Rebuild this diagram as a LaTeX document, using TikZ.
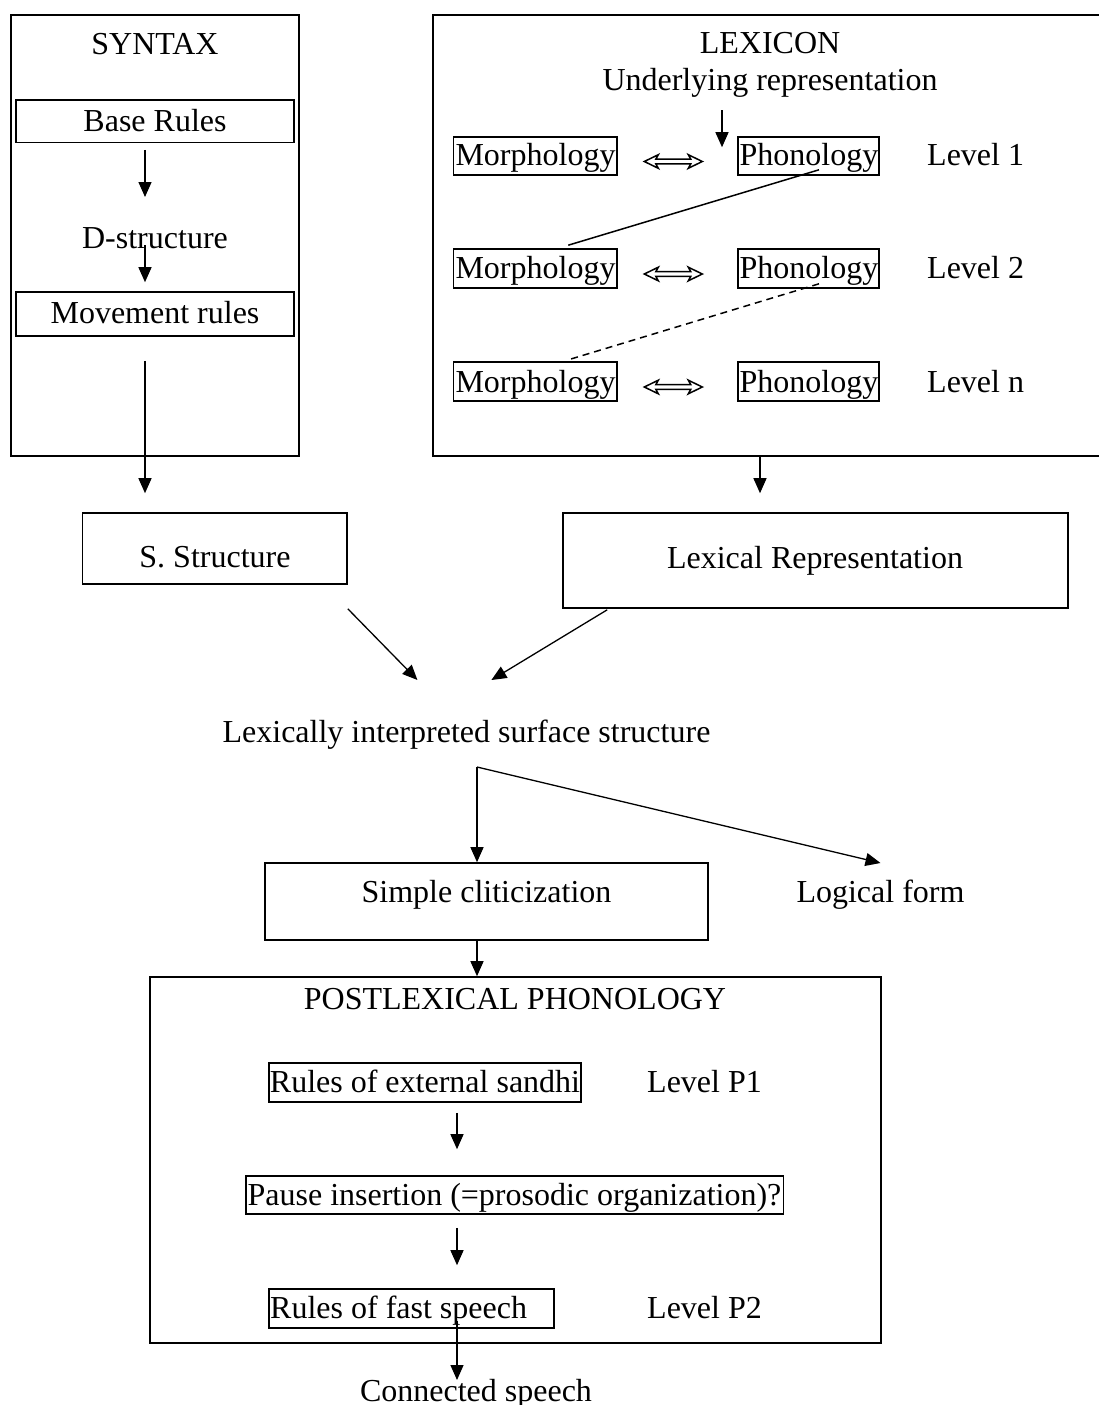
\documentclass[tikz,border=0pt]{standalone}
\usepackage{fontspec}
\setmainfont{Liberation Serif}
\usetikzlibrary{arrows.meta,calc,fit}
\begin{document}
\begin{tikzpicture}[x=1pt,y=-1pt,
  txt/.style={font=\fontsize{32}{38}\selectfont, inner sep=0pt, anchor=base},
  txtw/.style={txt, anchor=base west},
  frame/.style={draw, line width=1.6pt, inner sep=0pt, rectangle},
  arr/.style={line width=1.3pt, -{Triangle[length=15pt,width=13pt]}},
  link/.style={line width=1.5pt},
  dblarrow/.style={line width=1.5pt, line join=miter}]
\useasboundingbox (0,0) rectangle (1099,1405);
\clip (0,0) rectangle (1099,1405);

% column guides for the vertical connectors
\coordinate (xs) at (145,0);
\coordinate (xl) at (722,0);
\coordinate (xr) at (760,0);
\coordinate (xp) at (457,0);
\coordinate (split) at (477,767);

% ---------- SYNTAX ----------
\node[frame, fit={(11,15) (299,456)}] (syntaxbox) {};
\node[txt] (syntaxt) at (155,54.3) {SYNTAX};
\node[frame, fit={(16,100) (294,142.5)}] (baserules) {};
\node[txt] (baserulest) at (155,131) {Base Rules};
\node[txt] (dstruct) at (155,248) {D-structure};
\node[frame, fit={(16,292) (294,336)}] (moverules) {};
\node[txt] (moverulest) at (155,323) {Movement rules};

% ---------- LEXICON ----------
\node[frame, fit={(433,15) (1112,456)}] (lexbox) {};
\node[txt] (lexicont) at (770,53.5) {LEXICON};
\node[txt] (underlying) at (770,90) {Underlying representation};

\foreach \r/\yt/\yb/\yl/\lv in {1/137/175/165/1, 2/249/288/278/2, 3/362/401/392/n}{
  \node[frame, fit={(453.5,\yt) (617,\yb)}] (morph\r) {};
  \node[txt] (morph\r t) at (535.5,\yl) {Morphology};
  \node[frame, fit={(738,\yt) (879,\yb)}] (phon\r) {};
  \node[txt] (phon\r t) at (809,\yl) {Phonology};
  \node[txtw] (level\r) at (927,\yl) {Level \lv};
  % hollow two-headed arrow between the two boxes
  \coordinate (dl\r) at ($(morph\r.east)+(26.5,5.5)$);
  \draw[dblarrow] (dl\r) -- ++(14,-6.8) -- ++(-2.5,4.5) -- ++(35,0) -- ++(-2.5,-4.5)
     -- ++(14,6.8) -- ++(-14,6.8) -- ++(2.5,-4.5) -- ++(-35,0) -- ++(2.5,4.5) -- cycle;
}

% ---------- middle ----------
\node[frame, fit={(82.5,513) (347,584)}] (sstruct) {};
\node[txt] (sstructt) at (215,567) {S. Structure};
\node[frame, fit={(563,513) (1068,608)}] (lexrep) {};
\node[txt] (lexrept) at (815,568) {Lexical Representation};
\node[txt] (lexint) at (466.5,742) {Lexically interpreted surface structure};
\node[frame, fit={(265,863) (708,940)}] (simple) {};
\node[txt] (simplet) at (486.5,902) {Simple cliticization};
\node[txt] (logical) at (880.5,902) {Logical form};

% ---------- POSTLEXICAL PHONOLOGY ----------
\node[frame, fit={(150,977) (881,1343)}] (postlex) {};
\node[txt] (postlext) at (515,1009) {POSTLEXICAL PHONOLOGY};
\node[frame, fit={(269,1063) (581,1102)}] (sandhi) {};
\node[txt] (sandhit) at (425,1092) {Rules of external sandhi};
\node[txtw] (levelp1) at (647,1092) {Level P1};
\node[frame, fit={(246,1176) (783.5,1214)}] (pause) {};
\node[txt] (pauset) at (514.5,1205) {Pause insertion (=prosodic organization)?};
\node[frame, fit={(269,1289) (554,1328)}] (fast) {};
\node[txtw] (fastt) at (270,1318) {Rules of fast speech};
\node[txtw] (levelp2) at (647,1318) {Level P2};
\node[txt] (connected) at (476,1401) {Connected speech};

% ---------- connectors ----------
\draw[arr] ($(baserules.south -| xs)+(0,6.5)$) -- ($(dstruct.base -| xs)+(0,-51)$);
\draw[arr] ($(dstruct.base -| xs)+(0,-3)$) -- ($(moverules.north -| xs)+(0,-9)$);
\draw[arr] ($(moverules.south -| xs)+(0,24)$) -- ($(sstruct.north -| xs)+(0,-19)$);

\draw[arr] ($(underlying.base -| xl)+(0,20)$) -- ($(phon1.north -| xl)+(0,11)$);
\draw[link] ($(phon1.south)+(10.5,-6)$) -- ($(morph2.north)+(33,-3)$);
\draw[link, dash pattern=on 7pt off 5pt] ($(phon2.south)+(10.5,-5)$) -- ($(morph3.north)+(35,-2)$);
\draw[arr] (lexbox.south -| xr) -- ($(lexrep.north -| xr)+(0,-19)$);

\draw[arr] ($(sstruct.south east)+(0,24)$) -- ($(lexint.base west)+(195,-62)$);
\draw[arr] ($(lexrep.south west)+(45,1)$) -- ($(lexint.base west)+(269,-62)$);

\draw[arr] (split) -- (simple.north -| split);
\draw[arr] (split) -- ($(logical.base)+(0,-39)$);
\draw[arr] (simple.south -| split) -- (postlex.north -| split);

\draw[arr] ($(sandhi.south -| xp)+(0,10)$) -- ($(pause.north -| xp)+(0,-26)$);
\draw[arr] ($(pause.south -| xp)+(0,13)$) -- ($(fast.north -| xp)+(0,-23)$);
\draw[arr] ($(fast.south -| xp)+(0,-8)$) -- ($(connected.base -| xp)+(0,-21)$);
\end{tikzpicture}
\end{document}
